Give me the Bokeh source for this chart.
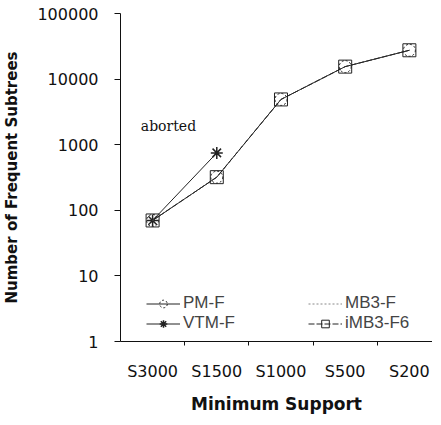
from bokeh.plotting import figure
from bokeh.models import FixedTicker, Legend, LegendItem, Label, Range1d
from bokeh.embed import file_html
from bokeh.resources import INLINE

categories = ["S3000", "S1500", "S1000", "S500", "S200"]
pm_f = [70, 320, 4900, 15500, 27500]
vtm_f = [70, 750]
mb3_f = [70, 320, 4900, 15500, 27500]
imb3_f6 = [70, 320, 4900, 15500, 27500]
y_ticks = [1, 10, 100, 1000, 10000, 100000]

xs = [i + 0.5 for i in range(len(categories))]

p = figure(width=432, height=416, y_axis_type="log", output_backend="svg",
           toolbar_location=None, x_range=Range1d(0, 4.86),
           y_range=Range1d(1, 100000),
           min_border_left=118, min_border_right=0, min_border_top=13, min_border_bottom=64)
p.outline_line_color = None
p.grid.visible = False
p.background_fill_color = "white"
p.border_fill_color = "white"

col = "#222222"
r_pm_line = p.line(xs, pm_f, line_color=col, line_width=1)
r_pm_mark = p.scatter(xs, pm_f, marker="circle", size=12, fill_color=None, line_color=col, line_dash="2 2")
r_vtm_line = p.line(xs[:len(vtm_f)], vtm_f, line_color=col, line_width=1)
r_vtm_mark = p.scatter(xs[:len(vtm_f)], vtm_f, marker="asterisk", size=12, line_color=col, line_width=1.5)
r_mb3 = p.line(xs, mb3_f, line_color="#888888", line_width=1, line_dash="2 2")
r_imb_line = p.line(xs, imb3_f6, line_color=col, line_width=1, line_dash="6 2")
r_imb_mark = p.scatter(xs, imb3_f6, marker="square", size=13, fill_color=None, line_color=col)

legend = Legend(items=[
    LegendItem(label="PM-F", renderers=[r_pm_line, r_pm_mark]),
    LegendItem(label="VTM-F", renderers=[r_vtm_line, r_vtm_mark]),
    LegendItem(label="MB3-F", renderers=[r_mb3]),
    LegendItem(label="iMB3-F6", renderers=[r_imb_line, r_imb_mark]),
], location=(26, 8), ncols=2, orientation="vertical",
    label_text_font="Liberation Sans", label_text_font_size="17px",
    glyph_width=34, glyph_height=19, spacing=0, padding=2, label_standoff=3,
    label_width=125, border_line_color=None, background_fill_alpha=0)
p.add_layout(legend, "center")

lab = Label(x=xs[1], y=vtm_f[1], text="aborted", x_offset=-76, y_offset=19,
            text_font="DejaVu Serif", text_font_size="14px", text_color="#111111")
p.add_layout(lab)

# axes
p.xaxis.ticker = FixedTicker(ticks=xs, minor_ticks=[1, 2, 3, 4])
p.xaxis.major_label_overrides = {x: c for x, c in zip(xs, categories)}
p.xaxis.minor_tick_out = 4
p.xaxis.minor_tick_in = 0
p.xaxis.major_label_standoff = 14
p.xaxis.axis_label = "Minimum Support"

p.yaxis.ticker = FixedTicker(ticks=y_ticks, minor_ticks=[])
p.yaxis.major_label_overrides = {t: str(t) for t in y_ticks}
p.yaxis.major_tick_out = 6
p.yaxis.major_tick_in = 0
p.yaxis.major_label_standoff = 16
p.yaxis.axis_label = "Number of Frequent Subtrees"

for ax in (p.xaxis, p.yaxis):
    ax.axis_line_color = "#111111"
    ax.major_label_text_font = "DejaVu Sans"
    ax.major_label_text_font_size = "16px"
    ax.major_label_text_color = "#111111"
    ax.axis_label_text_font = "DejaVu Sans"
    ax.axis_label_text_font_style = "bold"
    ax.axis_label_text_color = "#111111"
p.xaxis.major_tick_line_color = None
p.xaxis.minor_tick_line_color = "#111111"
p.yaxis.major_tick_line_color = "#111111"
p.yaxis.minor_tick_line_color = None
p.xaxis.axis_label_text_font_size = "17px"
p.yaxis.axis_label_text_font_size = "15px"
p.xaxis.axis_label_standoff = 10
p.yaxis.axis_label_standoff = 13

open("out.html", "w").write(file_html(p, INLINE))
